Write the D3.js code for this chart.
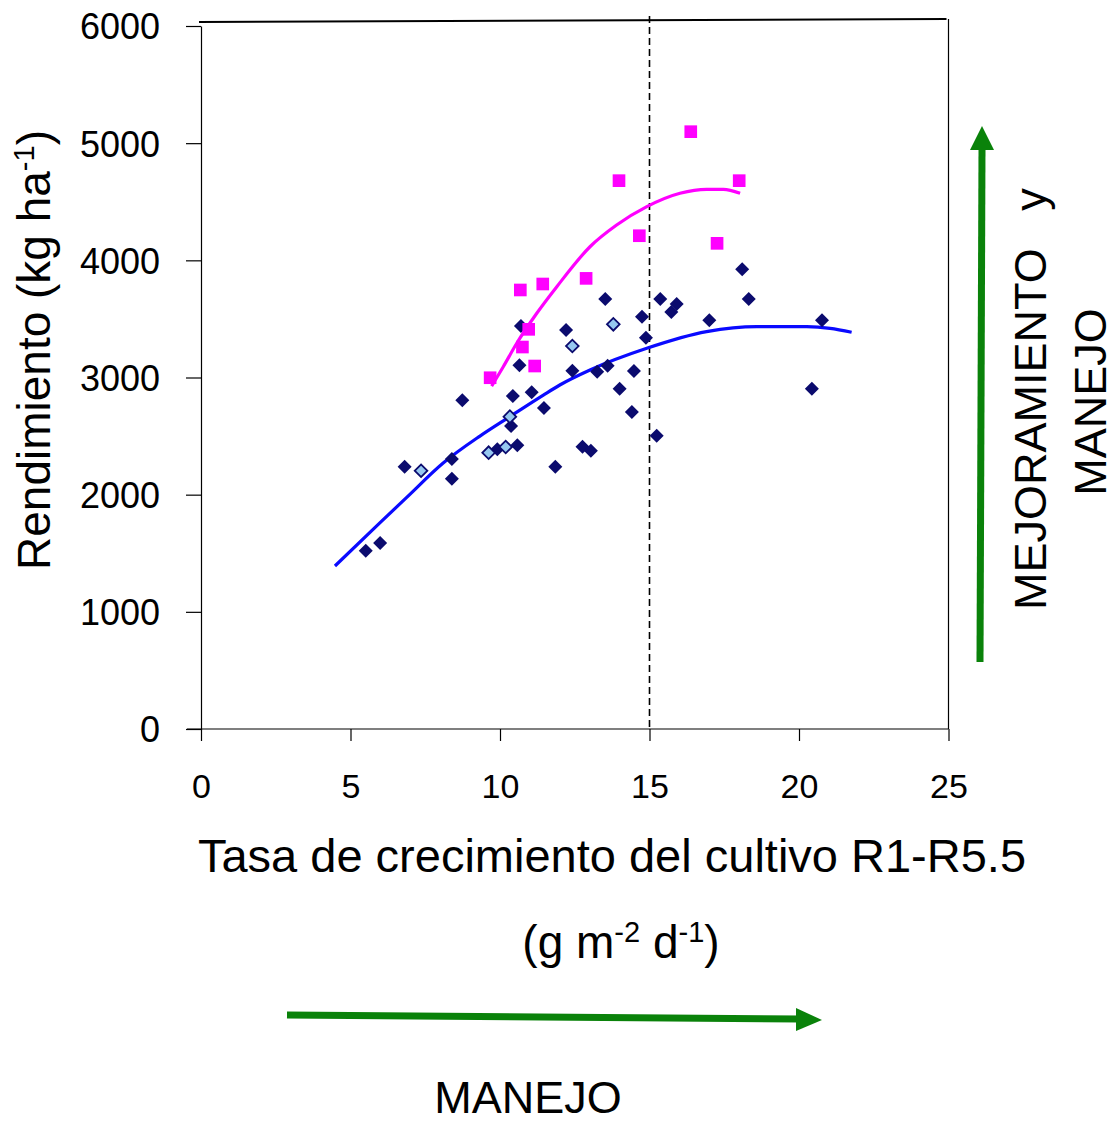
<!DOCTYPE html>
<html>
<head>
<meta charset="utf-8">
<script src="https://cdn.jsdelivr.net/npm/d3@7"></script>
<style>
  html, body { margin: 0; padding: 0; background: #fff; }
  svg text { font-family: "Liberation Sans", Arial, sans-serif; fill: #000; }
</style>
</head>
<body>
<svg id="chart" width="1115" height="1124"></svg>
<script>
// Crop growth rate R1-R5.5 (g m-2 d-1) vs yield (kg ha-1)

// Dark diamonds: [growth rate, yield]
const darkX = [5.51, 5.99, 6.81, 8.39, 8.39, 8.74, 9.91, 10.58, 10.37, 10.43, 10.65, 10.70,
  11.06, 11.47, 11.85, 12.21, 12.42, 12.76, 13.04, 13.25, 13.52, 13.60, 14.00, 14.41,
  14.48, 14.75, 14.88, 15.24, 15.36, 15.73, 15.91, 17.00, 18.10, 18.32, 20.43, 20.77];
const darkY = [1522, 1587, 2239, 2304, 2136, 2805, 2387, 2421, 2586, 2842, 3104, 3439,
  2874, 2740, 2239, 3405, 3058, 2410, 2375, 3050, 3670, 3101, 2905, 2705,
  3055, 3519, 3340, 2503, 3670, 3559, 3627, 3488, 3923, 3670, 2905, 3488];

// Light diamonds
const lightX = [7.36, 9.62, 10.19, 10.33, 12.42, 13.79];
const lightY = [2204, 2358, 2407, 2666, 3269, 3454];

// Pink squares
const pinkX = [9.67, 10.68, 10.75, 10.96, 11.16, 11.43, 12.88, 13.98, 14.66, 16.38, 17.26, 18.00];
const pinkY = [2998, 3747, 3260, 3411, 3098, 3798, 3846, 4680, 4210, 5098, 4145, 4680];

// Fitted trend curves
const blueFitX = [4.48, 5.99, 6.88, 8.10, 9.33, 10.33, 11.45, 12.0, 13.01, 14.91, 16.91, 18.59, 20.26, 21.04, 21.76];
const blueFitY = [1391, 1761, 1977, 2270, 2500, 2666, 2850, 2936, 3064, 3249, 3391, 3434, 3434, 3420, 3386];
const pinkFitX = [9.72, 10.11, 10.56, 11.23, 11.9, 13.01, 13.9, 14.91, 16.02, 16.91, 17.47, 18.03];
const pinkFitY = [2927, 3092, 3292, 3548, 3775, 4116, 4301, 4458, 4572, 4606, 4606, 4572];

const xTicks = [0, 5, 10, 15, 20, 25];
const yTicks = [0, 1000, 2000, 3000, 4000, 5000, 6000];
const threshold = 15;

const svg = d3.select("#chart");
const x = d3.scaleLinear().domain([0, 25]).range([201, 948.5]);
const y = d3.scaleLinear().domain([0, 6000]).range([729, 26]);

// Frame: right edge and the slightly tilted top line
svg.append("line")
  .attr("x1", x(25)).attr("x2", x(25))
  .attr("y1", y(6000) - 7).attr("y2", y(0))
  .attr("stroke", "#000").attr("stroke-width", 1.2);
svg.append("line")
  .attr("x1", x(0) - 2).attr("x2", x(25) - 2)
  .attr("y1", y(6000) - 4).attr("y2", y(6000) - 7)
  .attr("stroke", "#000").attr("stroke-width", 2);

// Axes
const xAxis = svg.append("g")
  .attr("transform", `translate(0,${y(0)})`)
  .call(d3.axisBottom(x).tickValues(xTicks).tickFormat(d3.format("d"))
    .tickSize(12).tickPadding(0).tickSizeOuter(0));
xAxis.select(".domain").attr("d", `M${x(0) - 14},0H${x(25)}`).attr("stroke-width", 1.2);
xAxis.selectAll(".tick line").attr("stroke-width", 1.2);
xAxis.selectAll(".tick text")
  .attr("y", 69).attr("dy", 0)
  .style("font-size", "34px");

const yAxis = svg.append("g")
  .attr("transform", `translate(${x(0)},0)`)
  .call(d3.axisLeft(y).tickValues(yTicks).tickFormat(d3.format("d"))
    .tickSize(15).tickPadding(26).tickSizeOuter(0));
yAxis.select(".domain").attr("stroke-width", 1.2);
yAxis.selectAll(".tick line").attr("stroke-width", 1.2);
yAxis.selectAll(".tick text").style("font-size", "36px").attr("dy", "0.36em");

// Vertical dashed reference line at 15
svg.append("line")
  .attr("x1", x(threshold)).attr("x2", x(threshold))
  .attr("y1", y(6000) - 10).attr("y2", y(0))
  .attr("stroke", "#000").attr("stroke-width", 1.6)
  .attr("stroke-dasharray", "7,4");

// Trend curves
const line = d3.line().x(d => x(d[0])).y(d => y(d[1])).curve(d3.curveMonotoneX);
svg.append("path")
  .datum(blueFitX.map((v, i) => [v, blueFitY[i]]))
  .attr("d", line).attr("fill", "none")
  .attr("stroke", "#0a0aff").attr("stroke-width", 3.2);

// Markers
const diamond = d3.symbol().type(d3.symbolSquare).size(98);
svg.append("g").selectAll("path")
  .data(darkX.map((v, i) => [v, darkY[i]]))
  .join("path")
  .attr("d", diamond)
  .attr("transform", d => `translate(${x(d[0])},${y(d[1])}) rotate(45)`)
  .attr("fill", "#0b0b6e");

svg.append("g").selectAll("path")
  .data(lightX.map((v, i) => [v, lightY[i]]))
  .join("path")
  .attr("d", d3.symbol().type(d3.symbolSquare).size(80))
  .attr("transform", d => `translate(${x(d[0])},${y(d[1])}) rotate(45)`)
  .attr("fill", "#96c8f0").attr("stroke", "#0b0b6e").attr("stroke-width", 1.8);

svg.append("path")
  .datum(pinkFitX.map((v, i) => [v, pinkFitY[i]]))
  .attr("d", line).attr("fill", "none")
  .attr("stroke", "#ff00ff").attr("stroke-width", 3.2);

svg.append("g").selectAll("path")
  .data(pinkX.map((v, i) => [v, pinkY[i]]))
  .join("path")
  .attr("d", d3.symbol().type(d3.symbolSquare).size(160))
  .attr("transform", d => `translate(${x(d[0])},${y(d[1])})`)
  .attr("fill", "#ff00ff");

// Axis titles
const yTitle = svg.append("text")
  .attr("transform", "translate(50,350) rotate(-90)")
  .attr("text-anchor", "middle")
  .style("font-size", "46px");
yTitle.append("tspan").text("Rendimiento (kg ha");
yTitle.append("tspan").attr("baseline-shift", "super").style("font-size", "29px").text("-1");
yTitle.append("tspan").text(")");

svg.append("text")
  .attr("x", 612).attr("y", 872)
  .attr("text-anchor", "middle")
  .style("font-size", "47px")
  .text("Tasa de crecimiento del cultivo R1-R5.5");

const unit = svg.append("text")
  .attr("x", 621).attr("y", 958)
  .attr("text-anchor", "middle")
  .style("font-size", "46px");
unit.append("tspan").text("(g m");
unit.append("tspan").attr("baseline-shift", "super").style("font-size", "29px").text("-2");
unit.append("tspan").text(" d");
unit.append("tspan").attr("baseline-shift", "super").style("font-size", "29px").text("-1");
unit.append("tspan").text(")");

// Green arrows: management (horizontal) and breeding + management (vertical)
const green = "#0a820a";
svg.append("line")
  .attr("x1", 287).attr("y1", 1015).attr("x2", 800).attr("y2", 1019)
  .attr("stroke", green).attr("stroke-width", 7);
svg.append("path")
  .attr("d", "M822,1020 L796,1008 L796,1031 Z")
  .attr("fill", green);

svg.append("line")
  .attr("x1", 980).attr("y1", 662).attr("x2", 982).attr("y2", 148)
  .attr("stroke", green).attr("stroke-width", 7);
svg.append("path")
  .attr("d", "M982,126 L970,150 L994,150 Z")
  .attr("fill", green);

svg.append("text")
  .attr("x", 528).attr("y", 1113)
  .attr("text-anchor", "middle")
  .style("font-size", "45px")
  .text("MANEJO");

svg.append("text")
  .attr("transform", "translate(1046,610) rotate(-90)")
  .attr("text-anchor", "start")
  .style("font-size", "45px")
  .style("white-space", "pre")
  .text("MEJORAMIENTO   y");

svg.append("text")
  .attr("transform", "translate(1106,402) rotate(-90)")
  .attr("text-anchor", "middle")
  .style("font-size", "45px")
  .text("MANEJO");
</script>
</body>
</html>
